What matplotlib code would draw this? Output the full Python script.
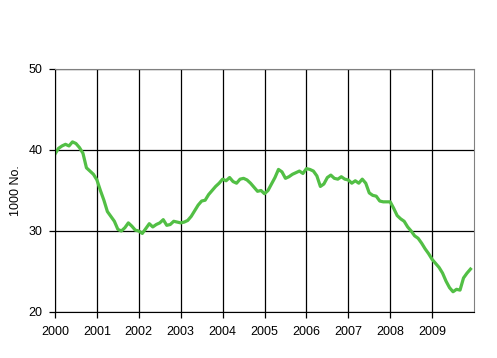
import numpy as np
import matplotlib
matplotlib.use("Agg")
import matplotlib.pyplot as plt

plt.rcParams['font.family'] = ['Liberation Sans', 'DejaVu Sans']

# monthly values, Jan 2000 - Dec 2009 (1000 persons)
values = [
    39.5, 40.2, 40.5, 40.7, 40.5, 41.0, 40.8, 40.3, 39.6, 37.8, 37.4, 37.0,
    36.3, 35.0, 33.8, 32.4, 31.8, 31.2, 30.2, 30.0, 30.4, 31.0, 30.6, 30.1,
    30.0, 29.7, 30.3, 30.9, 30.5, 30.8, 31.0, 31.4, 30.7, 30.8, 31.2, 31.1,
    31.0, 31.1, 31.3, 31.8, 32.5, 33.2, 33.7, 33.8, 34.5, 35.0, 35.5, 35.9,
    36.4, 36.2, 36.6, 36.1, 35.9, 36.4, 36.5, 36.3, 35.9, 35.4, 34.9, 35.0,
    34.6, 35.0, 35.8, 36.6, 37.6, 37.3, 36.5, 36.7, 37.0, 37.2, 37.4, 37.1,
    37.7, 37.6, 37.4, 36.8, 35.5, 35.8, 36.6, 36.9, 36.5, 36.4, 36.7, 36.4,
    36.3, 35.9, 36.2, 35.9, 36.4, 35.9, 34.7, 34.4, 34.3, 33.7, 33.6, 33.6,
    33.6, 32.8, 31.9, 31.5, 31.2, 30.5, 30.0, 29.4, 29.1, 28.5, 27.8, 27.2,
    26.5, 26.0, 25.5, 24.8, 23.8, 23.0, 22.5, 22.8, 22.7, 24.2, 24.8, 25.3,
]
years = list(range(2000, 2010))
y_ticks = [20, 30, 40, 50]

x = 2000 + np.arange(len(values)) / 12.0

fig = plt.figure(figsize=(4.97, 3.58), dpi=100)
ax = fig.add_axes([0.1107, 0.1285, 0.843, 0.6788])

ax.plot(x, values, color='#52bf45', linewidth=2.3, solid_joinstyle='round')

ax.set_xlim(2000, 2010)
ax.set_ylim(20, 50)
ax.set_xticks(years)
ax.set_xticklabels([str(y) for y in years])
ax.set_yticks(y_ticks)

ax.grid(True, color='black', linewidth=0.9)
ax.set_axisbelow(True)
for s in ['top', 'right']:
    ax.spines[s].set_color('#808080')
for s in ['left', 'bottom']:
    ax.spines[s].set_color('black')
ax.tick_params(direction='out', length=4, width=0.9, labelsize=9, colors='black')
ax.tick_params(axis='x', pad=6)
ax.tick_params(axis='y', pad=5)
ax.set_ylabel('1000 No.', fontsize=9, labelpad=5)

fig.savefig('out.png', dpi=100)
